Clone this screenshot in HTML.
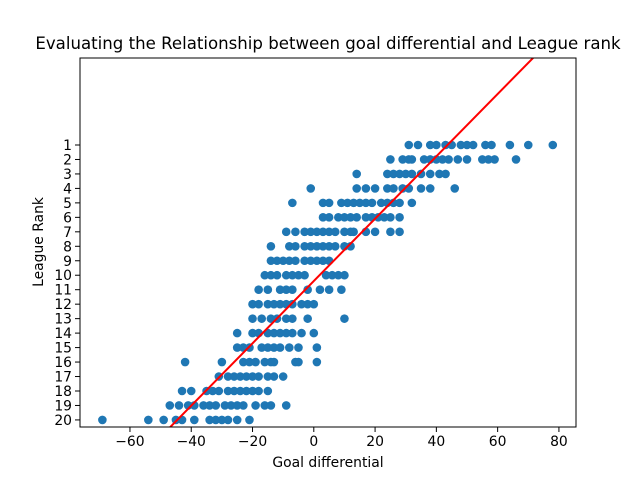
<!DOCTYPE html>
<html><head><meta charset="utf-8"><style>
body{margin:0;background:#fff;font-family:"Liberation Sans","DejaVu Sans",sans-serif}
svg text{font-family:"DejaVu Sans","Liberation Sans",sans-serif}
</style></head><body>
<svg id="chart" width="640" height="480" xmlns="http://www.w3.org/2000/svg">
<rect width="640" height="480" fill="#fff"/>
<defs><clipPath id="clip"><rect x="80" y="58" width="496" height="369"/></clipPath></defs>
<text x="328" y="49" text-anchor="middle" font-size="16.6">Evaluating the Relationship between goal differential and League rank</text>
<g id="points" clip-path="url(#clip)"></g>
<g id="fit" clip-path="url(#clip)"></g>
<rect x="80" y="58" width="496" height="369" fill="none" stroke="#000" stroke-width="1"/>
<g id="xticks"></g><g id="yticks"></g>
<text x="328" y="467" text-anchor="middle" font-size="13.9">Goal differential</text>
<text transform="translate(43,242) rotate(-90)" text-anchor="middle" font-size="13.9">League Rank</text>
</svg>
<script>
const ranks=[1,2,3,4,5,6,7,8,9,10,11,12,13,14,15,16,17,18,19,20];
const goals=[
[31,34,38,40,43,45,48,50,52,56,58,64,70,78],
[25,29,31,32,36,38,40,42,44,47,50,55,57,59,66],
[14,24,26,28,30,32,35,38,41,43],
[-1,14,17,20,24,26,29,31,35,38,46],
[-7,3,5,9,11,13,15,17,19,22,24,26,28,32],
[3,5,8,10,12,14,17,19,21,23,25,28],
[-9,-6,-3,-1,1,3,5,7,10,12,13,17,20,25,28],
[-14,-8,-6,-3,-1,1,3,5,7,10,12],
[-14,-12,-10,-8,-6,-3,-1,1,3,5],
[-16,-14,-12,-9,-7,-5,-3,4,6,8,10],
[-18,-15,-11,-9,-7,-2,2,5,9],
[-20,-18,-15,-13,-11,-9,-7,-4,-2,0],
[-20,-17,-14,-12,-9,-7,-2,10],
[-25,-20,-18,-15,-13,-11,-9,-7,-4,0],
[-25,-23,-21,-17,-15,-13,-11,-8,-5,1],
[-42,-30,-23,-21,-19,-16,-14,-13,-6,-5,1],
[-31,-28,-26,-24,-22,-20,-18,-15,-13,-10],
[-43,-40,-35,-33,-31,-28,-26,-24,-22,-20,-18,-15],
[-47,-44,-41,-39,-36,-34,-32,-29,-27,-25,-23,-19,-16,-14,-9],
[-69,-54,-49,-45,-43,-39,-34,-32,-30,-28,-25,-21]
];
const xTicks=[-60,-40,-20,0,20,40,60,80];
const fitSlope=-0.2154, fitIntercept=10.4;
const fitRange=[-69,79];
const X=v=>313.8+v*3.064;
const Y=r=>145+(r-1)*14.47;
const NS="http://www.w3.org/2000/svg";
function mk(t,a){const e=document.createElementNS(NS,t);for(const k in a)e.setAttribute(k,a[k]);return e;}
const pg=document.getElementById('points');
goals.forEach((row,i)=>row.forEach(g=>{
 const c=mk('circle',{cx:X(g),cy:Y(ranks[i]),r:4.3,fill:'#1f77b4'});
 
 
 pg.appendChild(c);
}));
const ln=mk('line',{x1:X(fitRange[0]),y1:Y(fitIntercept+fitSlope*fitRange[0]),x2:X(fitRange[1]),y2:Y(fitIntercept+fitSlope*fitRange[1]),stroke:'#ff0000','stroke-width':2});


document.getElementById('fit').appendChild(ln);
const xg=document.getElementById('xticks');
xTicks.forEach(v=>{
 const l=mk('line',{x1:X(v),x2:X(v),y1:427,y2:432,stroke:'#000','stroke-width':1});
 
 
 xg.appendChild(l);
 const t=mk('text',{x:X(v),y:446,'text-anchor':'middle','font-size':13.9});
 
 
 t.textContent=v<0?'\u2212'+(-v):String(v);
 xg.appendChild(t);
});
const yg=document.getElementById('yticks');
ranks.forEach(r=>{
 const l=mk('line',{x1:75,x2:80,y1:Y(r),y2:Y(r),stroke:'#000','stroke-width':1});
 
 
 yg.appendChild(l);
 const t=mk('text',{x:72,y:Y(r)+5,'text-anchor':'end','font-size':13.9});
 
 
 t.textContent=String(r);
 yg.appendChild(t);
});
</script>
</body></html>
